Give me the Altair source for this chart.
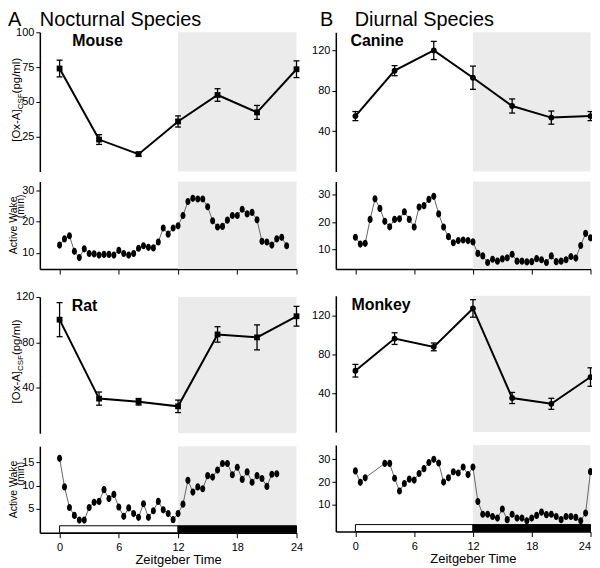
import altair as alt
import numpy as np
import pandas as pd

FONT = "Liberation Sans"
GRAY = "#ebebeb"
W_LEFT = 258
W_RIGHT = 256
XDOM = [-2, 24]
HOUR_TICKS = [0, 6, 12, 18, 24]
ELLIPSE = "M0,-1C0.39,-1 0.7,-0.55 0.7,0C0.7,0.55 0.39,1 0,1C-0.39,1 -0.7,0.55 -0.7,0C-0.7,-0.55 -0.39,-1 0,-1Z"

# ---- [Ox-A] CSF (pg/ml), every 4 h ----
ox_hours = [0, 4, 8, 12, 16, 20, 24]
mouse_ox = [74, 23, 12.5, 36, 55, 42.5, 73.5]
mouse_ox_err = [6, 3.5, 1.5, 4, 4.5, 5, 6]
rat_ox = [100, 30.5, 27.7, 23.7, 87, 84.4, 103]
rat_ox_err = [15, 5.8, 2.9, 5.5, 6.8, 11, 8.7]
canine_ox = [55, 100, 120, 93, 65, 53.5, 55]
canine_ox_err = [4.5, 5, 9, 11.5, 7, 6.5, 4.5]
monkey_ox = [63, 96, 87.5, 127, 35, 29, 56.5]
monkey_ox_err = [6.5, 6, 4, 9, 5.7, 5.7, 9.5]

# ---- Active wake (min), half-hourly ----
mouse_aw_hours = list(np.arange(0, 23.01, 0.5))
mouse_aw = [12.5, 14.5, 15.5, 10.5, 8.5, 11.3, 9.8, 9.7, 9.3, 9.5, 9.5, 9.3,
            10.8, 9.8, 9.3, 9.8, 11.5, 12.3, 11.8, 11.6, 13.5, 18, 16, 18,
            18.7, 22, 26.5, 27.5, 27.3, 27.3, 24.8, 20.3, 18.3, 18.5, 20.5, 22,
            22, 24, 22.5, 23, 20.6, 13.7, 13.5, 12.5, 14.5, 15, 12.3]
rat_aw_hours = list(np.arange(0, 22.01, 0.5))
rat_aw = [15.8, 9.7, 5.3, 3.6, 2.6, 2.6, 5.3, 6.4, 6.6, 9.1, 7.2, 8.1,
          5.4, 3.4, 5.2, 4.0, 3.2, 6.1, 3.2, 4.6, 6.6, 4.8, 4.0, 2.7,
          4.0, 6.0, 11.1, 8.6, 9.7, 9.3, 12.1, 11.8, 13.3, 14.7, 14.7, 12.3,
          13.9, 11.3, 12.9, 10.7, 12.1, 11.5, 9.8, 12.4, 12.5]
canine_aw_hours = list(np.arange(0, 24.01, 0.5))
canine_aw = [14.5, 12, 12.3, 21, 28.5, 25, 20.3, 18.3, 21, 21.2, 23.8, 21,
             18.2, 25.5, 26, 28.3, 29.4, 23, 18.2, 14.7, 12.5, 13.3, 13.5, 13.3,
             12.8, 8.6, 7.7, 5.3, 6.5, 5.8, 6.6, 7, 8.3, 5.8, 5.8, 5.5,
             5.6, 6.7, 6.3, 5.3, 7.7, 5.6, 5.8, 6.3, 7.5, 6.9, 11.5, 15.9, 14.3]
monkey_aw_hours = [0, 0.5, 1] + list(np.arange(3, 24.01, 0.5))
monkey_aw = [24.9, 19.9, 21.9, 28.2, 28.2, 21.7, 16.1, 19.4, 21.3, 20.9, 23.8, 25.9,
             28.6, 30, 28.4, 20, 21.9, 24.5, 24, 26.6, 23.3, 26.6, 11.5, 5.9,
             5.9, 4.9, 4.2, 8.2, 3.5, 5.9, 4.2, 4.2, 3.0, 4.2, 5.4, 6.8,
             5.7, 5.9, 4.9, 3.5, 4.9, 4.9, 4.5, 3.0, 6.4, 24.6]

night_df = pd.DataFrame({"a": [12], "b": [24]})
ld_df = pd.DataFrame({"s": [0, 12], "e": [12, 24], "c": ["white", "black"]})


def xs():
    return alt.Scale(domain=XDOM, nice=False, zero=False)


def txt(s, x, y, size, weight="normal", angle=0, align="left"):
    return alt.Chart(pd.DataFrame({"s": [s]})).mark_text(
        font=FONT, fontSize=size, fontWeight=weight, angle=angle, align=align,
        baseline="alphabetic", color="black").encode(
        text="s:N", x=alt.value(x), y=alt.value(y))


def yaxis(ticks):
    return alt.Axis(values=ticks, title=None, grid=False, labelFlush=False,
                    labelOverlap=False, tickSize=4, labelPadding=2)


def ox_panel(hours, vals, errs, dom, ticks, W, H, label, lx, shape, left, ttl=None, ttl_x=None):
    df = pd.DataFrame({"t": hours, "v": vals,
                       "lo": [v - e for v, e in zip(vals, errs)],
                       "hi": [v + e for v, e in zip(vals, errs)]})
    ysc = alt.Scale(domain=dom, nice=False, zero=False)
    ax = yaxis(ticks)
    X = alt.X("t:Q", scale=xs(), axis=None)
    night = alt.Chart(night_df).mark_rect(color=GRAY).encode(
        x=alt.X("a:Q", scale=xs(), axis=None), x2="b:Q",
        y=alt.value(0), y2=alt.value(H))
    base = alt.Chart(df)
    bars = base.mark_rule(color="black", strokeWidth=1.3).encode(
        x=X, y=alt.Y("lo:Q", scale=ysc, axis=ax), y2="hi:Q")
    cap_hi = base.mark_rule(color="black", strokeWidth=1.3, xOffset=-3, x2Offset=3).encode(
        x=X, x2="t:Q", y=alt.Y("hi:Q", scale=ysc, axis=ax))
    cap_lo = base.mark_rule(color="black", strokeWidth=1.3, xOffset=-3, x2Offset=3).encode(
        x=X, x2="t:Q", y=alt.Y("lo:Q", scale=ysc, axis=ax))
    line = base.mark_line(color="black", strokeWidth=2).encode(
        x=X, y=alt.Y("v:Q", scale=ysc, axis=ax))
    pts = base.mark_point(shape=shape, filled=True, size=34, color="black", opacity=1).encode(
        x=X, y=alt.Y("v:Q", scale=ysc, axis=ax))
    layers = [night, bars, cap_hi, cap_lo, line, pts, txt(label, lx, 14, 16, "bold")]
    if ttl:
        layers.append(txt(ttl[0], ttl_x[0], -6.5, 20))
        layers.append(txt(ttl[1], ttl_x[1], -6.5, 20))
    if left:
        y0 = H - 30
        for s, fs, dx, w in [("[Ox-A]", 11.5, 0, 32.6), ("CSF", 8, 3, 16), (" (pg/ml)", 11.5, 0, 39)]:
            layers.append(txt(s, -20 + dx, y0, fs, angle=270))
            y0 -= w
    return alt.layer(*layers).properties(width=W, height=H)


def aw_panel(hours, vals, dom, ticks, W, H, left, bottom, min_shift=17, flush=False):
    df = pd.DataFrame({"t": hours, "v": vals})
    ysc = alt.Scale(domain=dom, nice=False, zero=False)
    t0 = W * 2 / 26
    xax = alt.Axis(values=HOUR_TICKS, grid=False, labelFlush=flush, labelOverlap=False,
                   tickSize=5, labels=bottom, labelPadding=4,
                   title="Zeitgeber Time" if bottom else None, titlePadding=1,
                   titleX=(t0 + W) / 2)
    X = alt.X("t:Q", scale=xs(), axis=xax)
    night = alt.Chart(night_df).mark_rect(color=GRAY).encode(
        x=alt.X("a:Q", scale=xs(), axis=xax), x2="b:Q",
        y=alt.value(0), y2=alt.value(H))
    base = alt.Chart(df)
    line = base.mark_line(color="#666666", strokeWidth=1).encode(
        x=X, y=alt.Y("v:Q", scale=ysc, axis=yaxis(ticks)))
    pts = base.mark_point(shape=ELLIPSE, filled=True, size=52, color="black", opacity=1).encode(
        x=X, y=alt.Y("v:Q", scale=ysc, axis=yaxis(ticks)))
    layers = [night, line, pts]
    if bottom:
        layers.append(alt.Chart(ld_df).mark_rect(stroke="black", strokeWidth=1).encode(
            x=alt.X("s:Q", scale=xs(), axis=xax), x2="e:Q",
            y=alt.value(H - 7), y2=alt.value(H),
            color=alt.Color("c:N", scale=None)))
    if left:
        layers.append(txt("Active Wake", -23, H / 2, 10.5, angle=270, align="center"))
        layers.append(txt("(min)", -15.5, H / 2 - min_shift, 10.5, angle=270, align="center"))
    return alt.layer(*layers).properties(width=W, height=H)


mouse = ox_panel(ox_hours, mouse_ox, mouse_ox_err, [0, 100], [25, 50, 75, 100], W_LEFT, 140,
                 "Mouse", 32.7, "square", True, ["A", "Nocturnal Species"], [-32, 0])
mouse_w = aw_panel(mouse_aw_hours, mouse_aw, [4.8, 32.9], [10, 20, 30], W_LEFT, 88, True, False, 19)
rat = ox_panel(ox_hours, rat_ox, rat_ox_err, [0, 120], [40, 80, 120], W_LEFT, 137,
               "Rat", 32, "square", True)
rat_w = aw_panel(rat_aw_hours, rat_aw, [-0.1, 18.4], [5, 10, 15], W_LEFT, 87, True, True, 16)

canine = ox_panel(ox_hours, canine_ox, canine_ox_err, [0, 138], [40, 80, 120], W_RIGHT, 140,
                  "Canine", 14.7, "circle", False, ["B", "Diurnal Species"], [-16, 19])
canine_w = aw_panel(canine_aw_hours, canine_aw, [2.9, 34.8], [10, 20, 30], W_RIGHT, 88, False, False)
monkey = ox_panel(ox_hours, monkey_ox, monkey_ox_err, [0, 140], [40, 80, 120], W_RIGHT, 137,
                  "Monkey", 15.7, "circle", False)
monkey_w = aw_panel(monkey_aw_hours, monkey_aw, [-1.7, 36.3], [10, 20, 30], W_RIGHT, 87,
                    False, True, flush=True)


def column(a, b, c, d, gap):
    return alt.vconcat(
        alt.vconcat(a, b, spacing=10).resolve_scale(x="independent", y="independent"),
        alt.vconcat(c, d, spacing=13).resolve_scale(x="independent", y="independent"),
        spacing=gap).resolve_scale(x="independent", y="independent")


chart = alt.hconcat(column(mouse, mouse_w, rat, rat_w, 16),
                    column(canine, canine_w, monkey, monkey_w, 20.8),
                    spacing=7.5).resolve_scale(x="independent", y="independent").configure_view(
    stroke=None).configure_axis(
    labelFont=FONT, labelFontSize=11, labelColor="black", tickColor="black",
    domainColor="black", domainWidth=1.5, tickWidth=1, titleFont=FONT,
    titleFontSize=13, titleFontWeight="normal", titleColor="black").properties(
    padding={"left": 0, "top": 0, "right": -3, "bottom": 0})

chart.save("out.html", embed_options={"renderer": "svg", "actions": False})
